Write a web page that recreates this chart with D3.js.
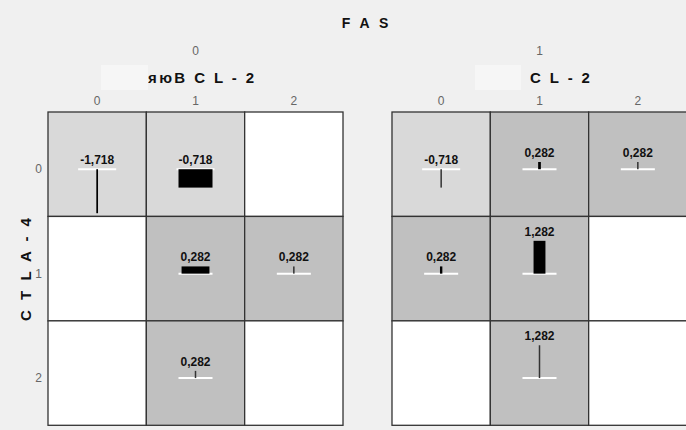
<!DOCTYPE html>
<html>
<head>
<meta charset="utf-8">
<script src="https://cdn.jsdelivr.net/npm/d3@7"></script>
<style>
  html, body { margin: 0; padding: 0; background: #f0f0f0; }
  svg { display: block; font-family: "Liberation Sans", Arial, sans-serif; }
</style>
</head>
<body>
<svg id="chart" width="686" height="430"></svg>
<script>
// ---- data ----
const title = "F A S";
const fasLevels = ["0", "1"];
const bclLevels = ["0", "1", "2"];
const ctlaLevels = ["0", "1", "2"];
const bclTitles = ["яюB C L - 2", "C L - 2"];
const rowTitle = "C T L A - 4";
// residual values per FAS panel, rows = CTLA-4, cols = BCL-2 (null = empty cell)
const residFas0 = [
  [-1.718, -0.718, null],
  [null, 0.282, 0.282],
  [null, 0.282, null]
];
const residFas1 = [
  [-0.718, 0.282, 0.282],
  [0.282, 1.282, null],
  [null, 1.282, null]
];
// relative bar widths (cell weights)
const weightFas0 = [
  [0.05, 1.0, null],
  [null, 0.82, 0.03],
  [null, 0.03, null]
];
const weightFas1 = [
  [0.04, 0.08, 0.03],
  [0.07, 0.35, null],
  [null, 0.03, null]
];

const residuals = [residFas0, residFas1];
const weights = [weightFas0, weightFas1];

const svg = d3.select("#chart");
svg.append("rect").attr("width", 686).attr("height", 430).attr("fill", "#f0f0f0");

const panelX = d3.scaleBand().domain(fasLevels).range([48, 687]).paddingInner(0.1424);
const colX = d3.scaleBand().domain(bclLevels).range([0, panelX.bandwidth()]);
const rowY = d3.scaleBand().domain(ctlaLevels).range([112, 425.3]);
const hScale = d3.scaleLinear().domain([0, 1]).range([0, 25.6]);
const wScale = d3.scaleLinear().domain([0, 1]).range([0, 34]);

const fmt = v => d3.format(".3f")(v).replace(".", ",").replace("−", "-");

// title
svg.append("text").attr("x", 366.5).attr("y", 28).attr("text-anchor", "middle")
  .attr("font-size", 14).attr("font-weight", "bold").attr("letter-spacing", 3)
  .attr("fill", "#111").text(title);

// row title
svg.append("text").attr("transform", "translate(31,268) rotate(-90)")
  .attr("text-anchor", "middle").attr("font-size", 15).attr("font-weight", "bold")
  .attr("letter-spacing", 3).attr("fill", "#111").text(rowTitle);

// row ticks
svg.selectAll("text.rowtick").data(ctlaLevels).join("text")
  .attr("class", "rowtick")
  .attr("x", 42).attr("y", d => rowY(d) + rowY.bandwidth() / 2 + 9)
  .attr("text-anchor", "end").attr("font-size", 12).attr("fill", "#666").text(d => d);

fasLevels.forEach((fas, pi) => {
  const px = panelX(fas);
  const g = svg.append("g").attr("transform", `translate(${px},0)`);

  // panel header
  g.append("text").attr("x", panelX.bandwidth() / 2).attr("y", 55)
    .attr("text-anchor", "middle").attr("font-size", 12).attr("fill", "#666").text(fas);

  // BCL-2 title
  if (pi === 0) {
    g.append("text").attr("x", 100).attr("y", 83).attr("font-size", 15)
      .attr("font-weight", "bold").attr("letter-spacing", 2.4).attr("fill", "#111")
      .text(bclTitles[pi]);
    g.append("rect").attr("x", 53).attr("y", 65).attr("width", 47).attr("height", 25).attr("fill", "#f6f6f6");
  } else {
    g.append("rect").attr("x", 83).attr("y", 65).attr("width", 46).attr("height", 25).attr("fill", "#f6f6f6");
    g.append("text").attr("x", 138).attr("y", 83).attr("font-size", 15)
      .attr("font-weight", "bold").attr("letter-spacing", 2.4).attr("fill", "#111")
      .text(bclTitles[pi]);
  }

  // column ticks
  g.selectAll("text.coltick").data(bclLevels).join("text")
    .attr("class", "coltick")
    .attr("x", d => colX(d) + colX.bandwidth() / 2).attr("y", 105)
    .attr("text-anchor", "middle").attr("font-size", 12).attr("fill", "#666").text(d => d);

  const cells = [];
  ctlaLevels.forEach((r, ri) => bclLevels.forEach((c, ci) => {
    cells.push({ r, c, v: residuals[pi][ri][ci], w: weights[pi][ri][ci] });
  }));

  g.selectAll("rect.cell").data(cells).join("rect")
    .attr("class", "cell")
    .attr("x", d => colX(d.c)).attr("y", d => rowY(d.r))
    .attr("width", colX.bandwidth()).attr("height", rowY.bandwidth())
    .attr("fill", d => d.v == null ? "#ffffff" : (d.v < 0 ? "#d9d9d9" : "#c0c0c0"))
    .attr("stroke", "#333").attr("stroke-width", 1.3);

  cells.filter(d => d.v != null).forEach(d => {
    const cx = colX(d.c) + colX.bandwidth() / 2;
    const base = rowY(d.r) + rowY.bandwidth() / 2 + 5;
    const h = hScale(Math.abs(d.v));
    const top = d.v > 0 ? base - h : base;
    const label = g.append("text").attr("x", cx).attr("y", top - 5)
      .attr("text-anchor", "middle").attr("font-size", 12).attr("font-weight", "bold")
      .attr("fill", "#111").text(fmt(d.v));
    const tw = label.node().getComputedTextLength();
    g.append("line").attr("x1", cx - tw / 2 - 2).attr("x2", cx + tw / 2 + 2)
      .attr("y1", base).attr("y2", base).attr("stroke", "#ffffff").attr("stroke-width", 2);
    const bw = Math.max(1.5, wScale(d.w));
    g.append("rect").attr("x", cx - bw / 2).attr("y", d.v > 0 ? base - h : base)
      .attr("width", bw).attr("height", h)
      .attr("fill", bw <= 1.6 ? "#333" : "#000");
  });
});
</script>
</body>
</html>
